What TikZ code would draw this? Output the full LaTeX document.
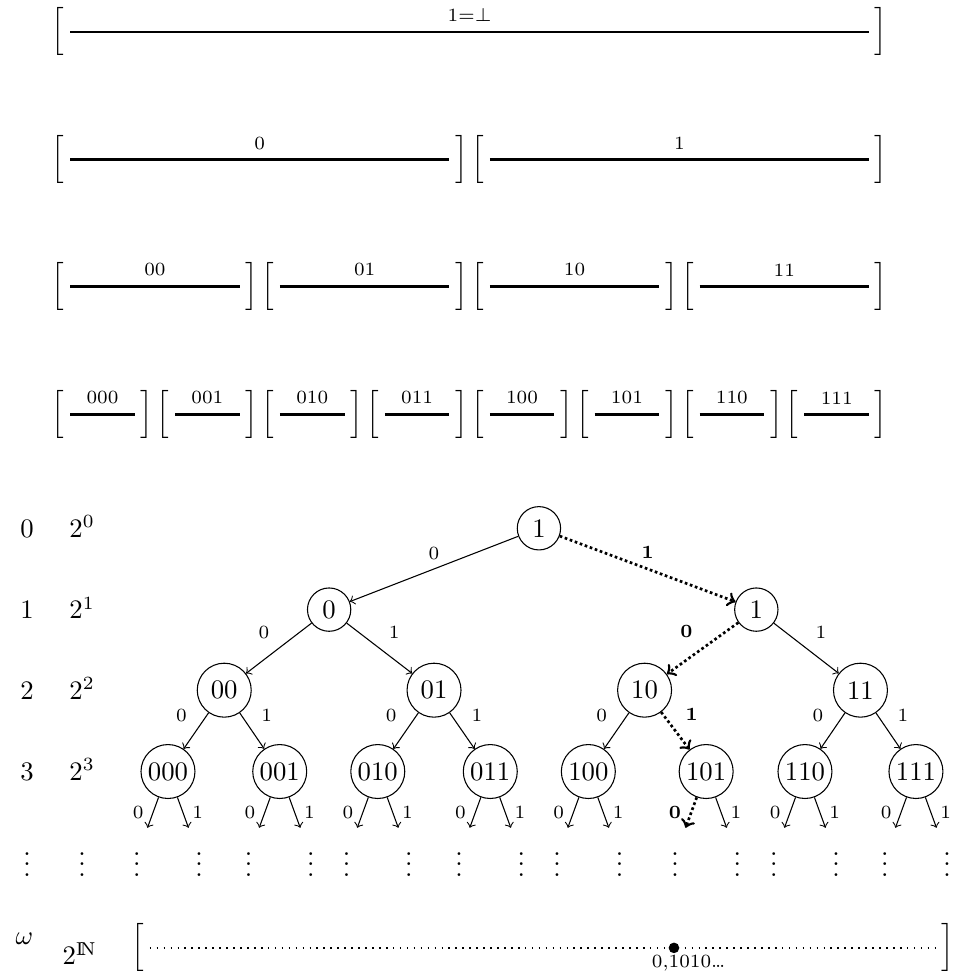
\documentclass[tikz,border=0pt]{standalone}
\usepackage{amsmath,amssymb}
\begin{document}
\begin{tikzpicture}[>=to,
    br/.style={inner xsep=2pt, inner ysep=0pt},
    bar/.style={line width=1pt},
    lbl/.style={font=\scriptsize},
    blbl/.style={font=\scriptsize\bfseries},
    vtx/.style={draw, circle, inner sep=1pt, minimum size=0.57cm},
    bigvtx/.style={vtx, minimum size=0.71cm},
    walk/.style={densely dotted, line width=1pt}]
\useasboundingbox (0,0) rectangle (12.57,12.84);

% intervals
\node[br] (ltop) at (0.763,12.42) {$\Big[$};
\node[br] (rtop) at (11.593,12.42) {$\Big]$};
\draw[bar] (ltop) -- (rtop) node[midway, above, lbl] {$1{=}\bot$};
\foreach \w [count=\i from 0] in {0,1} {
  \node[br] (l\w) at ({0.763+\i*11.04/2},10.74) {$\Big[$};
  \node[br] (r\w) at ({0.763+(\i+1)*11.04/2-0.21},10.74) {$\Big]$};
  \draw[bar] (l\w) -- (r\w) node[midway, above, lbl] {\w};
}
\foreach \w [count=\i from 0] in {00,01,10,11} {
  \node[br] (l\w) at ({0.763+\i*11.04/4},9.07) {$\Big[$};
  \node[br] (r\w) at ({0.763+(\i+1)*11.04/4-0.21},9.07) {$\Big]$};
  \draw[bar] (l\w) -- (r\w) node[midway, above, lbl] {\w};
}
\foreach \w [count=\i from 0] in {000,001,010,011,100,101,110,111} {
  \node[br] (l\w) at ({0.763+\i*11.04/8},7.39) {$\Big[$};
  \node[br] (r\w) at ({0.763+(\i+1)*11.04/8-0.21},7.39) {$\Big]$};
  \draw[bar] (l\w) -- (r\w) node[midway, above, lbl] {\w};
}

% levels and cardinalities
\foreach \k/\y in {0/5.89,1/4.82,2/3.76,3/2.69} {
  \node[anchor=base] (lev\k) at (0.355,\y-0.12) {$\k$};
  \node[anchor=base] (card\k) at (1.08,\y-0.12) {$2^{\k}$};
}
\node[anchor=base] (levd) at (0.355,1.31) {$\vdots$};
\node[anchor=base] (cardd) at (1.08,1.31) {$\vdots$};
\node[anchor=base] (levw) at (0.32,0.41) {$\omega$};
\node[anchor=base] (cardw) at (1.05,0.145) {$2^{\mathrm{I\!N}}$};

% tree
\node[vtx] (root) at (7.09,5.89) {1};
\node[vtx] (v0) at (4.33,4.82) {0};
\node[vtx] (v1) at (9.95,4.82) {1};
\foreach \w/\x in {00/2.95,01/5.71,10/8.48,11/11.32}
  \node[bigvtx] (v\w) at (\x,3.76) {\w};
\foreach \w/\x in {000/2.21,001/3.68,010/4.97,011/6.45,100/7.74,101/9.29,110/10.59,111/12.05} {
  \node[bigvtx] (v\w) at (\x,2.69) {\w};
  \coordinate (a\w) at (\x-0.27,1.95);
  \coordinate (b\w) at (\x+0.27,1.95);
  \node[anchor=base] (da\w) at (\x-0.41,1.31) {$\vdots$};
  \node[anchor=base] (db\w) at (\x+0.41,1.31) {$\vdots$};
}

\draw[->] (root) -- (v0) node[midway, above, lbl] {0};
\draw[->, walk] (root) -- (v1) node[midway, above, blbl] {1};
\draw[->] (v0) -- (v00) node[midway, above left, lbl] {0};
\draw[->] (v0) -- (v01) node[midway, above right, lbl] {1};
\draw[->, walk] (v1) -- (v10) node[midway, above left, blbl] {0};
\draw[->] (v1) -- (v11) node[midway, above right, lbl] {1};
\foreach \w in {00,01,11} {
  \draw[->] (v\w) -- (v\w0) node[midway, above left, lbl] {0};
  \draw[->] (v\w) -- (v\w1) node[midway, above right, lbl] {1};
}
\draw[->] (v10) -- (v100) node[midway, above left, lbl] {0};
\draw[->, walk] (v10) -- (v101) node[midway, above right, blbl] {1};

% leaves
\foreach \w in {000,001,010,011,100,110,111}
  \draw[->] (v\w) -- (a\w) node[midway, left, lbl] {0};
\draw[->, walk] (v101) -- (a101) node[midway, left, blbl] {0};
\foreach \w in {000,001,010,011,100,101,110,111}
  \draw[->] (v\w) -- (b\w) node[midway, right, lbl] {1};

% limit
\node[br] (wl) at (1.81,0.37) {$\Big[$};
\node[br] (wr) at (12.47,0.37) {$\Big]$};
\draw[dotted, semithick] (wl) -- (wr)
  node[pos=0.667, circle, fill, inner sep=0pt, minimum size=0.14cm] (pt) {};
\node[lbl] (ptlbl) at (9.06,0.165) {0,1010\ldots};
\end{tikzpicture}
\end{document}
